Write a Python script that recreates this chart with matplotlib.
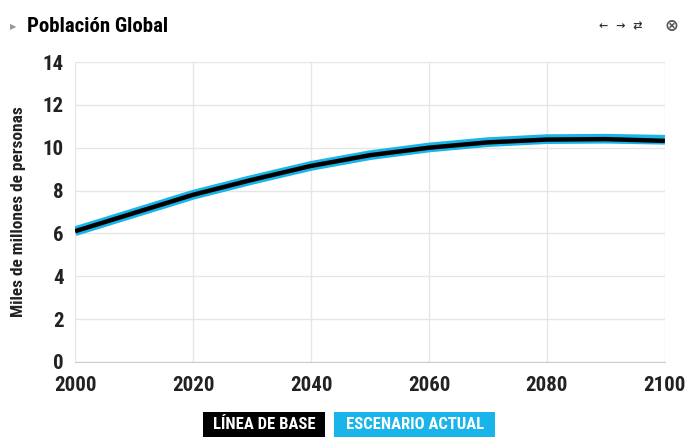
import matplotlib.pyplot as plt
from matplotlib.patches import Rectangle

years = [2000, 2010, 2020, 2030, 2040, 2050, 2060, 2070, 2080, 2090, 2100]
linea_base = [6.1, 6.95, 7.8, 8.5, 9.15, 9.65, 10.0, 10.25, 10.38, 10.4, 10.32]
escenario_actual = [6.1, 6.95, 7.8, 8.5, 9.15, 9.65, 10.01, 10.26, 10.4, 10.42, 10.37]

legend_labels = ['LÍNEA DE BASE', 'ESCENARIO ACTUAL']
CYAN = '#19b4ea'

plt.rcParams['font.family'] = ['Roboto Condensed', 'Liberation Sans Narrow', 'Roboto', 'DejaVu Sans']
plt.rcParams['font.weight'] = 'bold'

fig = plt.figure(figsize=(6.89, 4.37), dpi=100)
ax = fig.add_axes([0.109, 0.172, 0.856, 0.686])

ax.plot(years, escenario_actual, color=CYAN, lw=7, solid_capstyle='butt', zorder=3)
ax.plot(years, linea_base, color='black', lw=3.2, solid_capstyle='butt', zorder=4)

ax.set_xlim(2000, 2100)
ax.set_ylim(0, 14)
ax.set_xticks(range(2000, 2101, 20))
ax.set_yticks(range(0, 15, 2))
ax.grid(True, color='#e6e6e6', lw=1)
ax.set_axisbelow(True)
for side in ['top', 'right', 'left']:
    ax.spines[side].set_visible(False)
ax.spines['bottom'].set_color('#cccccc')
ax.tick_params(axis='both', length=0, labelsize=15, colors='#222222')
ax.tick_params(axis='y', pad=8)
ax.tick_params(axis='x', pad=10)
for lbl in ax.get_xticklabels() + ax.get_yticklabels():
    lbl.set_fontweight('bold')
ax.set_ylabel('Miles de millones de personas', fontsize=12.5, fontweight='bold',
              color='#222222', labelpad=12)

# title bar
fig.text(0.039, 0.94, 'Población Global', fontsize=15, fontweight='bold',
         color='black', va='center')
fig.text(0.015, 0.94, '▶', fontsize=6, color='#999999', va='center',
         family='DejaVu Sans')
fig.text(0.87, 0.94, '←  →  ⇄', fontsize=8, color='#333333', va='center',
         family='DejaVu Sans')
fig.text(0.975, 0.94, '⊗', fontsize=12, color='#555555', va='center',
         ha='center', family='DejaVu Sans')

# legend boxes
boxes = [(0.295, 0.177, 'black'), (0.485, 0.234, CYAN)]
for (x0, w, c), label in zip(boxes, legend_labels):
    fig.patches.append(Rectangle((x0, 0.0), w, 0.058, transform=fig.transFigure,
                                 facecolor=c, edgecolor='none'))
    fig.text(x0 + w / 2, 0.028, label, fontsize=12, fontweight='bold',
             color='white', ha='center', va='center')

fig.savefig('out.png', dpi=100)
